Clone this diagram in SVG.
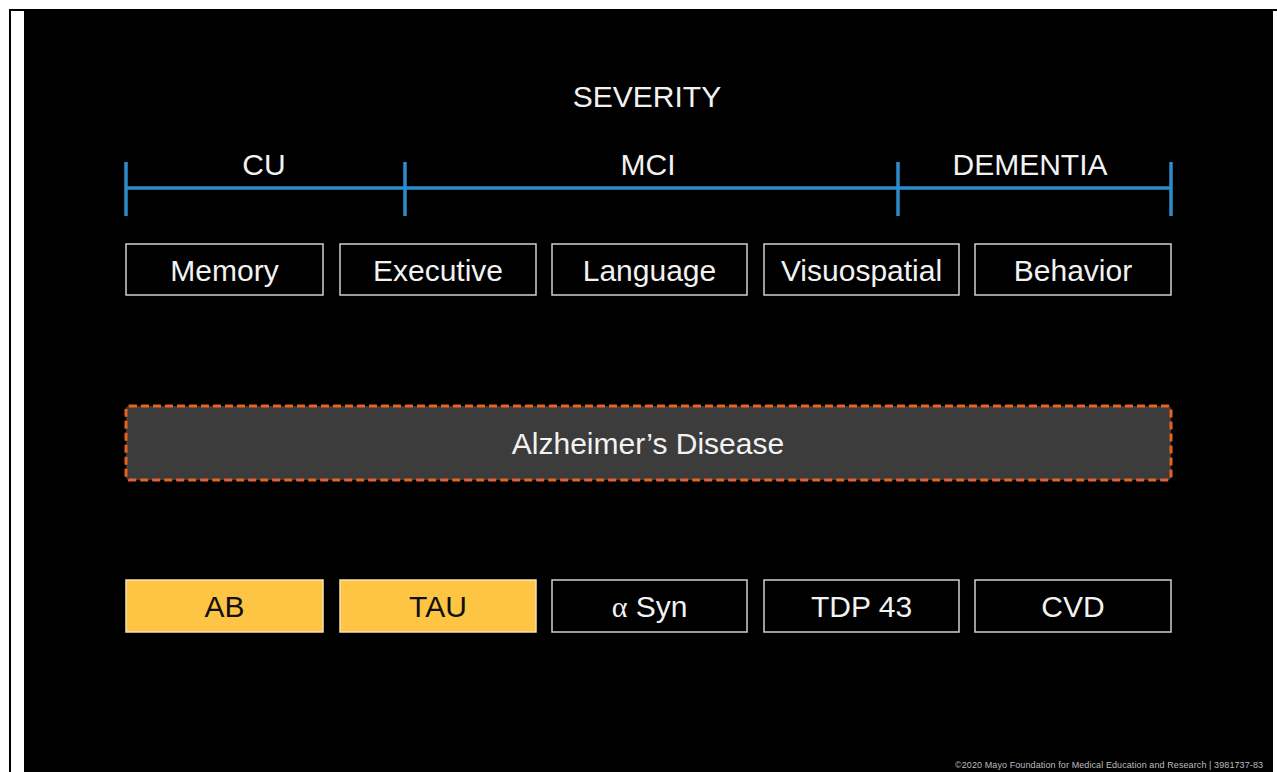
<svg xmlns="http://www.w3.org/2000/svg" width="1277" height="772" viewBox="0 0 1277 772">
<style>
.t{font-family:"Liberation Sans",Arial,sans-serif;font-size:30px;fill:#f2f2f2;text-anchor:middle}
.tb{font-family:"Liberation Sans",Arial,sans-serif;font-size:30px;fill:#111;text-anchor:middle}
.box{fill:#000;stroke:#d0d0d0;stroke-width:1.5}
.ybox{fill:#fdc543;stroke:#f3e2b5;stroke-width:1.5}
.axis{stroke:#2b8ccb;stroke-width:3.5;fill:none}
</style>
<rect x="0" y="0" width="1277" height="772" fill="#fff"/>
<rect x="9" y="9" width="1268" height="763" fill="#000"/>
<rect x="11" y="11" width="13" height="761" fill="#fff"/>
<rect x="1273" y="11" width="4" height="761" fill="#fff"/>

<text class="t" x="647" y="107">SEVERITY</text>

<g id="connectors">
<line class="axis" x1="126" y1="188" x2="1171" y2="188"/>
<line class="axis" x1="126" y1="162" x2="126" y2="216"/>
<line class="axis" x1="405" y1="162" x2="405" y2="216"/>
<line class="axis" x1="898" y1="162" x2="898" y2="216"/>
<line class="axis" x1="1171" y1="162" x2="1171" y2="216"/>
</g>
<g id="stage-cu"><text class="t" x="264" y="175">CU</text></g>
<g id="stage-mci"><text class="t" x="648" y="175">MCI</text></g>
<g id="stage-dementia"><text class="t" x="1030" y="175">DEMENTIA</text></g>

<g id="memory"><rect class="box" x="126" y="244" width="197" height="51"/><text class="t" x="224.5" y="281">Memory</text></g>
<g id="executive"><rect class="box" x="340" y="244" width="196" height="51"/><text class="t" x="438" y="281">Executive</text></g>
<g id="language"><rect class="box" x="552" y="244" width="195" height="51"/><text class="t" x="649.5" y="281">Language</text></g>
<g id="visuospatial"><rect class="box" x="764" y="244" width="195" height="51"/><text class="t" x="861.5" y="281">Visuospatial</text></g>
<g id="behavior"><rect class="box" x="975" y="244" width="196" height="51"/><text class="t" x="1073" y="281">Behavior</text></g>

<g id="alzheimers"><rect x="126" y="406" width="1045" height="74" rx="3" fill="#3c3c3c" stroke="#e6621e" stroke-width="3" stroke-dasharray="8 4"/><text class="t" x="648" y="454">Alzheimer’s Disease</text></g>

<g id="ab"><rect class="ybox" x="126" y="580" width="197" height="52"/><text class="tb" x="224.5" y="617">AB</text></g>
<g id="tau"><rect class="ybox" x="340" y="580" width="196" height="52"/><text class="tb" x="438" y="617">TAU</text></g>
<g id="asyn"><rect class="box" x="552" y="580" width="195" height="52"/><text class="t" x="649.5" y="617"><tspan font-family="'Liberation Serif','DejaVu Serif',serif">α</tspan> Syn</text></g>
<g id="tdp43"><rect class="box" x="764" y="580" width="195" height="52"/><text class="t" x="861.5" y="617">TDP 43</text></g>
<g id="cvd"><rect class="box" x="975" y="580" width="196" height="52"/><text class="t" x="1073" y="617">CVD</text></g>

<text x="955" y="768" font-family="'Liberation Sans',Arial,sans-serif" font-size="9" fill="#bdbdbd" textLength="308" lengthAdjust="spacing">©2020 Mayo Foundation for Medical Education and Research   |   3981737-83</text>
</svg>
